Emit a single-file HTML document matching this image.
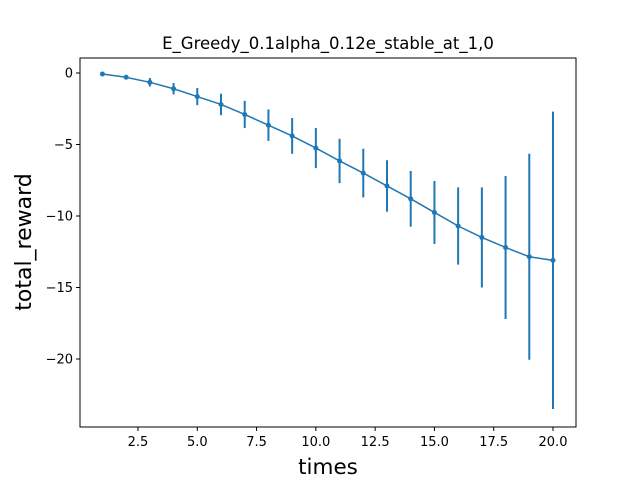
<!DOCTYPE html>
<html><head><meta charset="utf-8"><style>body{margin:0;background:#fff}svg{display:block;font-family:"DejaVu Sans","Liberation Sans",sans-serif}</style></head>
<body>
<svg id="chart" width="640" height="480">
<rect width="640" height="480" fill="#fff"/>
<text x="328" y="49" font-size="16.5" text-anchor="middle">E_Greedy_0.1alpha_0.12e_stable_at_1,0</text>
<rect x="80" y="58" width="496" height="369" fill="none" stroke="#000" stroke-width="1"/>
<g id="xt"></g>
<g id="yt"></g>
<g id="series"></g>
<text x="328" y="474" font-size="21.5" text-anchor="middle">times</text>
<text transform="translate(31,242) rotate(-90)" font-size="22" text-anchor="middle">total_reward</text>
</svg>
<script>
const times=[1,2,3,4,5,6,7,8,9,10,11,12,13,14,15,16,17,18,19,20];
const means=[-0.07,-0.3,-0.65,-1.1,-1.65,-2.2,-2.9,-3.65,-4.4,-5.25,-6.15,-7.0,-7.9,-8.8,-9.75,-10.7,-11.5,-12.2,-12.85,-13.1];
const errs=[0,0.05,0.3,0.4,0.6,0.75,0.95,1.1,1.25,1.4,1.55,1.7,1.8,1.95,2.2,2.7,3.5,5.0,7.2,10.4];
const xTicks=[2.5,5,7.5,10,12.5,15,17.5,20];
const yTicks=[0,-5,-10,-15,-20];
const X=v=>138+(v-2.5)*(415/17.5);
const Y=v=>73+(-v)*(286/20);
const NS="http://www.w3.org/2000/svg";
function mk(t,a,p){const e=document.createElementNS(NS,t);for(const k in a)e.setAttribute(k,a[k]);p.appendChild(e);return e;}
const xt=document.getElementById('xt'),yt=document.getElementById('yt'),s=document.getElementById('series');
xTicks.forEach(v=>{const l=mk('line',{x1:X(v),x2:X(v),y1:427,y2:431,stroke:'#000'},xt);


const t=mk('text',{x:X(v),y:446,'font-size':13,'text-anchor':'middle'},xt);t.textContent=v.toFixed(1);

});
yTicks.forEach(v=>{const l=mk('line',{x1:76,x2:80,y1:Y(v),y2:Y(v),stroke:'#000'},yt);


const t=mk('text',{x:73,y:Y(v)+4.5,'font-size':13,'text-anchor':'end'},yt);t.textContent=v===0?'0':'\u2212'+Math.abs(v);

});
const c='#1f77b4';
times.forEach((tv,i)=>{const e=mk('line',{x1:X(tv),x2:X(tv),y1:Y(means[i]+errs[i]),y2:Y(means[i]-errs[i]),stroke:c,'stroke-width':2},s);

});
const p=mk('polyline',{points:times.map((tv,i)=>X(tv)+','+Y(means[i])).join(' '),fill:'none',stroke:c,'stroke-width':1.5},s);


times.forEach((tv,i)=>{const d=mk('circle',{cx:X(tv),cy:Y(means[i]),r:2.5,fill:c},s);

});
</script>
</body></html>
